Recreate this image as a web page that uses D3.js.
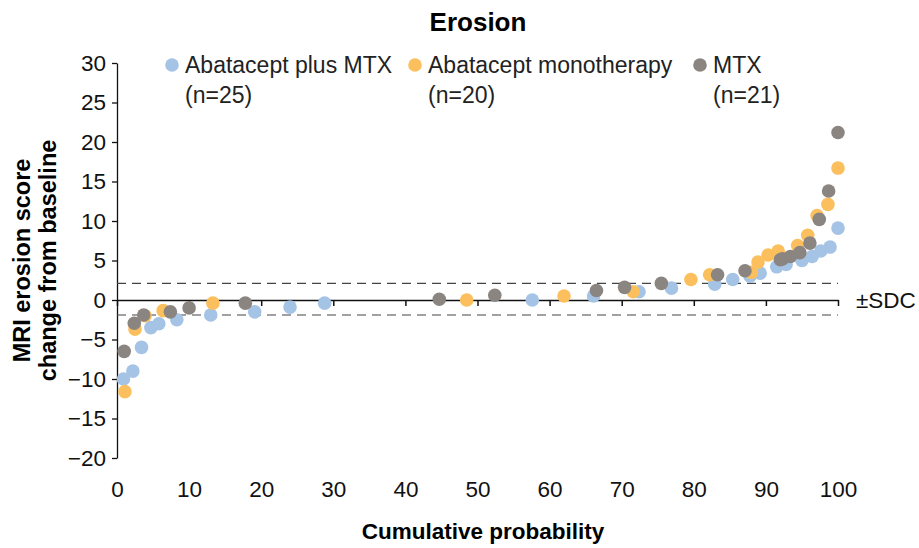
<!DOCTYPE html>
<html>
<head>
<meta charset="utf-8">
<script src="https://cdn.jsdelivr.net/npm/d3@7"></script>
<style>
  body { margin: 0; background: #fff; }
  svg { font-family: 'Liberation Sans', Arial, sans-serif; }
</style>
</head>
<body>
<div class="vis-erosion"></div>
<script>
// values (x = cumulative probability, y = change)
const comboX = [0.9, 2.2, 3.4, 4.7, 5.8, 8.3, 13.0, 19.1, 24.0, 28.8, 57.6, 66.1, 72.4, 76.9, 82.9, 85.4, 87.8, 89.2, 91.5, 92.8, 95.0, 96.4, 97.6, 98.9, 100];
const comboY = [-10.0, -9.0, -6.0, -3.5, -3.0, -2.5, -1.9, -1.5, -0.9, -0.4, 0.0, 0.5, 1.05, 1.5, 2.0, 2.6, 3.0, 3.4, 4.2, 4.5, 5.0, 5.5, 6.2, 6.7, 9.1];

const monoX = [1.1, 2.5, 3.9, 6.4, 13.3, 48.5, 62.0, 71.6, 79.6, 82.2, 88.0, 88.9, 90.3, 91.7, 92.2, 94.4, 95.8, 97.1, 98.6, 100];
const monoY = [-11.6, -3.7, -2.0, -1.35, -0.4, 0.0, 0.5, 1.05, 2.6, 3.2, 3.5, 4.8, 5.7, 6.2, 5.4, 6.9, 8.2, 10.7, 12.1, 16.7];

const mtxX = [1.0, 2.4, 3.7, 7.4, 10.0, 17.8, 44.7, 52.4, 66.5, 70.4, 75.5, 83.3, 87.1, 92.0, 92.3, 93.4, 94.7, 96.1, 97.4, 98.7, 100];
const mtxY = [-6.5, -2.95, -1.9, -1.5, -1.0, -0.4, 0.1, 0.6, 1.2, 1.6, 2.1, 3.2, 3.7, 5.1, 5.2, 5.5, 6.0, 7.2, 10.2, 13.8, 21.2];

const seriesNames = ['Abatacept plus MTX', 'Abatacept monotherapy', 'MTX'];
const seriesN = ['(n=25)', '(n=20)', '(n=21)'];
const sdc = [2.1, -1.9];
const xTicks = [0, 10, 20, 30, 40, 50, 60, 70, 80, 90, 100];
const yTicks = [-20, -15, -10, -5, 0, 5, 10, 15, 20, 25, 30];

const series = [
    {name: seriesNames[0], n: seriesN[0], xs: comboX, ys: comboY, color: '#a5c3e5'},
    {name: seriesNames[1], n: seriesN[1], xs: monoX, ys: monoY, color: '#fbc05d'},
    {name: seriesNames[2], n: seriesN[2], xs: mtxX, ys: mtxY, color: '#8b8581'},
];

const outerWidth = 919, outerHeight = 548;
const margin = {top: 63, right: 81, bottom: 90, left: 117};

const svg = d3.select('.vis-erosion')
    .append('svg')
    .attr('width', outerWidth)
    .attr('height', outerHeight);

const x = d3.scaleLinear().domain([0, 100]).range([margin.left, outerWidth - margin.right]);
const y = d3.scaleLinear().domain([-20, 30]).range([outerHeight - margin.bottom, margin.top]);

// title
svg.append('text')
    .attr('x', 478).attr('y', 31)
    .attr('text-anchor', 'middle')
    .style('font-size', '26px').style('font-weight', 'bold')
    .text('Erosion');

// y axis
const yAxis = svg.append('g')
    .attr('transform', 'translate(' + x(0) + ',0)')
    .call(d3.axisLeft(y).tickValues(yTicks).tickSize(5).tickSizeOuter(0).tickPadding(6)
        .tickFormat(d => d < 0 ? '\u2212' + Math.abs(d) : d));
yAxis.selectAll('path, line').attr('stroke', '#111').attr('stroke-width', 1.3);
yAxis.selectAll('text').style('font-size', '22.5px').attr('fill', '#111');

// dashed SDC lines
svg.selectAll('.sdc')
    .data(sdc)
    .enter().append('line')
    .attr('class', 'sdc')
    .attr('x1', x(0)).attr('x2', x(100))
    .attr('y1', d => y(d)).attr('y2', d => y(d))
    .attr('stroke', '#444').attr('stroke-width', 1.2)
    .attr('stroke-dasharray', '9,6');

// zero line with ticks; tick labels sit at the bottom
const xAxis = svg.append('g')
    .attr('transform', 'translate(0,' + y(0) + ')')
    .call(d3.axisBottom(x).tickValues(xTicks).tickSize(6).tickSizeOuter(0));
xAxis.selectAll('path, line').attr('stroke', '#111').attr('stroke-width', 1.5);
xAxis.selectAll('text')
    .attr('y', 181)
    .style('font-size', '22.5px').attr('fill', '#111');

svg.append('text')
    .attr('x', 856).attr('y', y(0) + 8)
    .style('font-size', '22.5px').attr('fill', '#111')
    .text('\u00b1SDC');

// points
series.forEach(s => {
    svg.append('g').selectAll('circle')
        .data(s.xs.map((v, i) => ({x: v, y: s.ys[i]})))
        .enter().append('circle')
        .attr('cx', d => x(d.x))
        .attr('cy', d => y(d.y))
        .attr('r', 6.8)
        .attr('fill', s.color);
});

// legend
const legendX = [172, 415, 700];
const legendG = svg.selectAll('.legend')
    .data(series)
    .enter().append('g')
    .attr('class', 'legend')
    .attr('transform', (d, i) => 'translate(' + legendX[i] + ',65)');

legendG.append('circle')
    .attr('r', 6.8)
    .attr('fill', d => d.color);

legendG.append('text')
    .attr('x', 13).attr('y', 8)
    .style('font-size', '23px').attr('fill', '#222')
    .text(d => d.name);

legendG.append('text')
    .attr('x', 13).attr('y', 38)
    .style('font-size', '23px').attr('fill', '#222')
    .text(d => d.n);

// axis titles
svg.append('text')
    .attr('x', 483).attr('y', 539)
    .attr('text-anchor', 'middle')
    .style('font-size', '22.5px').style('font-weight', 'bold')
    .text('Cumulative probability');

const yLab = svg.append('text')
    .attr('transform', 'translate(30,' + y(5) + ') rotate(-90)')
    .attr('text-anchor', 'middle')
    .style('font-size', '23.5px').style('font-weight', 'bold');
yLab.append('tspan').attr('x', 0).attr('dy', 0).text('MRI erosion score');
yLab.append('tspan').attr('x', 0).attr('dy', 26).text('change from baseline');
</script>
</body>
</html>
